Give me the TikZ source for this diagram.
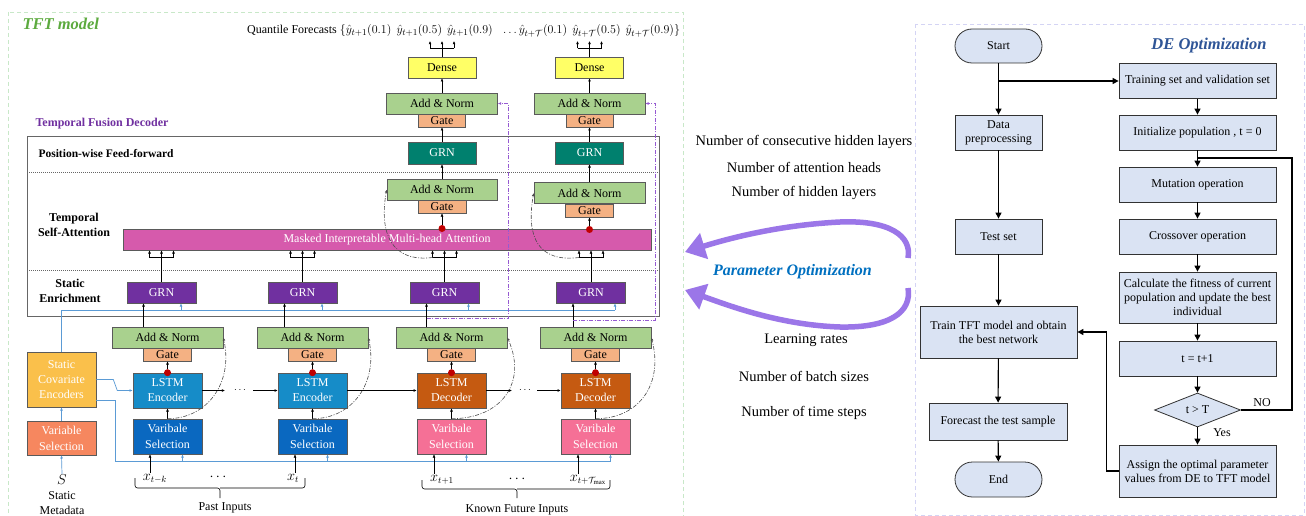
\documentclass[tikz,border=0pt]{standalone}
\usepackage{fontspec}
\setmainfont{Liberation Serif}
\usetikzlibrary{arrows.meta,shapes.geometric,calc}

\newcommand\fsz[2]{\fontsize{#1}{#2}\selectfont}

\definecolor{annormc}{RGB}{169,209,142}
\definecolor{gatec}{RGB}{244,177,131}
\definecolor{densec}{RGB}{255,255,102}
\definecolor{tealgrn}{RGB}{0,128,110}
\definecolor{purgrn}{RGB}{112,48,160}
\definecolor{mhac}{RGB}{214,90,172}
\definecolor{encc}{RGB}{22,140,200}
\definecolor{vsblue}{RGB}{10,104,192}
\definecolor{decc}{RGB}{197,90,17}
\definecolor{vspink}{RGB}{245,112,150}
\definecolor{scec}{RGB}{250,192,75}
\definecolor{svsc}{RGB}{246,135,95}
\definecolor{dotred}{RGB}{192,0,0}
\definecolor{ctxblue}{RGB}{91,155,213}
\definecolor{pdash}{RGB}{150,90,210}
\definecolor{boxline}{RGB}{90,90,90}
\definecolor{tftgreen}{RGB}{92,170,62}
\definecolor{tfdpurple}{RGB}{112,48,160}
\definecolor{pobl}{RGB}{0,112,192}
\definecolor{deblue}{RGB}{47,85,151}
\definecolor{lav}{RGB}{155,118,232}
\definecolor{flfill}{RGB}{218,227,243}
\definecolor{flline}{RGB}{50,50,50}
\definecolor{tftframe}{RGB}{200,232,200}
\definecolor{deframe}{RGB}{212,212,244}

\tikzset{
  box/.style={draw=boxline, line width=0.6pt, inner sep=0pt, align=center, font=\fsz{12}{15}},
  annorm/.style={box, fill=annormc, minimum width=111pt, minimum height=21pt},
  gatebox/.style={box, fill=gatec, minimum width=48pt, minimum height=13pt, font=\fsz{12}{12}},
  densebox/.style={box, fill=densec, minimum width=68pt, minimum height=21pt},
  tgrn/.style={box, fill=tealgrn, text=white, minimum width=68pt, minimum height=22pt},
  pgrn/.style={box, fill=purgrn, text=white, minimum width=69pt, minimum height=21pt},
  encbox/.style={box, fill=encc, text=white, minimum width=69pt, minimum height=35pt},
  decbox/.style={box, fill=decc, text=white, minimum width=69pt, minimum height=35pt},
  vsbbox/.style={box, fill=vsblue, text=white, minimum width=69pt, minimum height=35pt, font=\fsz{12}{16}},
  vspbox/.style={box, fill=vspink, text=white, minimum width=69pt, minimum height=35pt, font=\fsz{12}{16}},
  rdot/.style={circle, fill=dotred, inner sep=0pt, minimum size=7pt},
  arr/.style={-{Latex[length=3.2pt,width=2.8pt]}, line width=0.5pt},
  bline/.style={draw=ctxblue, line width=0.7pt},
  barr/.style={bline, -{Latex[length=3.2pt,width=2.8pt]}},
  skipl/.style={-{Latex[length=3.2pt,width=2.8pt]}, draw=black!70, line width=0.6pt, dash pattern=on 4pt off 1.5pt on 1pt off 1.5pt},
  purpd/.style={-{Latex[length=3.2pt,width=2.8pt]}, draw=pdash, line width=0.7pt, dash pattern=on 4pt off 1.5pt on 1pt off 1.5pt},
  seplbl/.style={font=\bfseries\fsz{12}{15}, align=center},
  txt/.style={font=\fsz{12}{15}, align=center, inner sep=1pt},
  inlbl/.style={font=\fsz{13.5}{14}, inner sep=1pt},
  bracket/.style={line width=0.6pt, rounded corners=2.5pt},
  fbox/.style={draw=flline, fill=flfill, line width=0.8pt, align=center, inner sep=0pt, font=\fsz{12}{14}},
  farr/.style={-{Triangle[length=6pt,width=6pt]}, line width=1.1pt},
  fline/.style={line width=1.1pt},
  optarrow/.style={draw=lav, line width=5.5pt, -{Triangle[length=20pt,width=26pt]}},
  paramtxt/.style={font=\fsz{14.5}{16}},
}

\begin{document}
\begin{tikzpicture}[x=1pt,y=-1pt]
\useasboundingbox (0,0) rectangle (1306,516);
\fill[white] (0,0) rectangle (1306,516);

% ---------- outer frames ----------
\draw[tftframe, line width=0.8pt, dash pattern=on 4pt off 3pt] (8,12) rectangle (683,530);
\draw[deframe, line width=0.8pt, dash pattern=on 4pt off 3pt] (915,24) rectangle (1304,515);

\node[anchor=west, font=\bfseries\itshape\fsz{16.5}{18}, text=tftgreen] (tftttl) at (19,24) {TFT model};
\node[anchor=base west, font=\fsz{12}{14}, inner sep=0pt] (qf) at (247,34) {Quantile Forecasts {\fsz{12.6}{14}$\{\hat{y}_{t+1}(0.1)\ \,\hat{y}_{t+1}(0.5)\ \,\hat{y}_{t+1}(0.9)\ \ \,\ldots\hat{y}_{t+\mathcal{T}}(0.1)\ \,\hat{y}_{t+\mathcal{T}}(0.5)\ \,\hat{y}_{t+\mathcal{T}}(0.9)\}$}};

% ---------- temporal fusion decoder frame ----------
\draw[black!60, line width=0.8pt] (27,136) rectangle (659,316);
\draw[black!60, line width=0.6pt, dash pattern=on 1pt off 1pt] (27,172) -- (659,172) (27,270) -- (659,270);
\node[anchor=west, font=\bfseries\fsz{12}{14}, text=tfdpurple] (tfd) at (32,124) {Temporal Fusion Decoder};
\node[anchor=west, font=\bfseries\fsz{11.5}{14}] (pwff) at (35,154) {Position-wise Feed-forward};
\node[seplbl] (tsa) at (74,224.5) {Temporal\\Self-Attention};
\node[seplbl] (sen) at (70,290.5) {Static\\Enrichment};

% ---------- output heads ----------
\node[densebox] (ds3) at (442,67.5) {Dense};
\node[densebox] (ds4) at (589.5,67.5) {Dense};
\node[annorm] (oan3) at (442,103.5) {Add \& Norm};
\node[gatebox, minimum width=47pt] (og3) at (442,120.5) {Gate};
\node[annorm] (oan4) at (589.5,103.5) {Add \& Norm};
\node[gatebox, minimum width=47pt] (og4) at (589.5,120.5) {Gate};
\node[tgrn] (t3) at (442,153) {GRN};
\node[tgrn] (t4) at (589.5,153) {GRN};

% ---------- self-attention layer ----------
\node[annorm, minimum width=110pt] (aan3) at (442,189.5) {Add \& Norm};
\node[gatebox] (ag3) at (442,206.5) {Gate};
\node[annorm] (aan4) at (589.5,193) {Add \& Norm};
\node[gatebox] (ag4) at (589.5,210.5) {Gate};
\node[box, fill=mhac, text=white, minimum width=528pt, minimum height=21pt] (mha) at (387,239.5) {Masked Interpretable Multi-head Attention};
\node[rdot] (ad3) at (442,228.5) {};
\node[rdot] (ad4) at (589.5,229.5) {};

% ---------- static enrichment ----------
\node[pgrn] (g1) at (161.5,292.5) {GRN};
\node[pgrn] (g2) at (302.5,292.5) {GRN};
\node[pgrn] (g3) at (444.5,292.5) {GRN};
\node[pgrn] (g4) at (591,292.5) {GRN};

% ---------- LSTM layer ----------
\foreach \i/\x in {1/167.5,2/312.5,3/451.5,4/595.5}{
  \node[annorm] (an\i) at (\x,337.5) {Add \& Norm};
  \node[gatebox] (gt\i) at (\x,354.5) {Gate};
}
\node[encbox] (en1) at (167.5,390.5) {LSTM\\Encoder};
\node[encbox] (en2) at (312.5,390.5) {LSTM\\Encoder};
\node[decbox] (en3) at (451.5,390.5) {LSTM\\Decoder};
\node[decbox] (en4) at (595.5,390.5) {LSTM\\Decoder};
\node[vsbbox] (vs1) at (167.5,436.5) {Varibale\\Selection};
\node[vsbbox] (vs2) at (312.5,436.5) {Varibale\\Selection};
\node[vspbox] (vs3) at (451.5,436.5) {Varibale\\Selection};
\node[vspbox] (vs4) at (595.5,436.5) {Varibale\\Selection};
\foreach \i in {1,2,3,4}{
  \node[rdot] (d\i) at (en\i.north) {};
  \draw[arr] (d\i) -- (gt\i.south);
  \draw[arr] (vs\i.north) -- (en\i.south);
}

% ---------- static covariates ----------
\node[box, fill=scec, text=white, minimum width=69pt, minimum height=55pt] (sce) at (61.5,379.5) {Static\\Covariate\\Encoders};
\node[box, fill=svsc, text=white, minimum width=69pt, minimum height=34pt, font=\fsz{12}{16}] (svs) at (61.5,438) {Variable\\Selection};
\node[font=\fsz{14}{14}, inner sep=1pt] (smeta) at (62,480) {$S$};
\node[txt] (smlbl) at (62,503.5) {Static\\Metadata};
\draw[barr] (smeta.north) -- (svs.south);
\draw[barr] (svs.north) -- (sce.south);

% static context lines
\coordinate (cs) at (61.5,310);
\coordinate (cse) at (615,310);
\draw[bline] (sce.north) -- (cs) -- (cse);
\foreach \g/\dx in {g1/19.5,g2/19.5,g3/24,g4/24}
  \draw[barr] ([xshift=\dx pt]\g.south |- cs) -- ([xshift=\dx pt]\g.south);
\draw[barr] (sce.east) -- ++(17,0) -- ++(4,11) -- (en1.west);
\coordinate (cve) at (610.5,461);
\draw[bline] ($(sce.east)+(0,20.5)$) -- ++(19,0) |- (cve);
\foreach \v in {vs1,vs2,vs3,vs4}
  \draw[barr] ([xshift=15pt]\v.south |- cve) -- ([xshift=15pt]\v.south);

% LSTM layer output to static enrichment
\foreach \a/\g in {an1/g1,an2/g2,an3/g3,an4/g4}
  \draw[arr] ([xshift=-18pt]\g.south |- \a.north) -- ([xshift=-18pt]\g.south);

% static enrichment to attention (three inputs each)
\coordinate (fy) at (0,257.5);
\foreach \g in {g1,g2,g3,g4}{
  \draw[line width=0.5pt] (\g.north) -- (\g.north |- fy);
  \draw[line width=0.5pt] ([xshift=-12pt]\g.north |- fy) -- ([xshift=12pt]\g.north |- fy);
  \foreach \d in {-12,0,12}
    \draw[arr] ([xshift=\d pt]\g.north |- fy) -- ([xshift=\d pt]\g.north |- mha.south);
}

% attention to output heads
\foreach \c in {3,4}{
  \draw[arr] (ad\c) -- (ag\c.south);
  \draw[arr] (aan\c.north) -- (t\c.south);
  \draw[arr] (t\c.north) -- (og\c.south);
  \draw[arr] (oan\c.north) -- (ds\c.south);
}
\coordinate (oy) at (0,48.5);
\coordinate (oyt) at (0,41);
\foreach \d in {ds3,ds4}{
  \draw[line width=0.5pt] (\d.north) -- (\d.north |- oy);
  \draw[line width=0.5pt] ([xshift=-12pt]\d.north |- oy) -- ([xshift=12pt]\d.north |- oy);
  \foreach \e in {-12,0,12}
    \draw[arr] ([xshift=\e pt]\d.north |- oy) -- ([xshift=\e pt]\d.north |- oyt);
}

% gated skip connections
\draw[skipl] ([xshift=-12pt]g3.north |- fy) .. controls +(-40,5) and +(-8,45) .. (aan3.west);
\draw[skipl] ([xshift=-12pt]g4.north |- fy) .. controls +(-40,5) and +(-8,45) .. (aan4.west);
\draw[skipl] (vs1.north) .. controls +(40,0) and +(10,45) .. (an1.east);
\draw[skipl] (vs2.north) .. controls +(40,0) and +(10,45) .. (an2.east);
\draw[skipl] (vs3.north) .. controls +(50,0) and +(20,45) .. (an3.east);
\draw[skipl] (vs4.north) .. controls +(45,0) and +(12,45) .. (an4.east);

\coordinate (p3) at (426.5,318);
\coordinate (p4) at (573,320);
\draw[purpd] (p3) -- ++(81.5,0) |- (oan3.east);
\draw[purpd] (p4) -- ++(82,0) |- (oan4.east);

% recurrent links between LSTM cells
\coordinate (h1) at (225,390.5);
\coordinate (h1b) at (253,390.5);
\node[inner sep=0pt] (dt1) at (240,390.5) {$\cdots$};
\draw[arr] (en1.east) -- (h1);
\draw[arr] (h1b) -- (en2.west);
\draw[arr] (en2.east) -- (en3.west);
\coordinate (h3) at (512,390.5);
\coordinate (h3b) at (537,390.5);
\node[inner sep=0pt] (dt3) at (525,390.5) {$\cdots$};
\draw[arr] (en3.east) -- (h3);
\draw[arr] (h3b) -- (en4.west);

% ---------- inputs ----------
\node[inlbl] (x1) at (155,479) {$x_{t-k}$};
\node[inlbl] (xd1) at (218,477) {$\cdots$};
\node[inlbl] (x2) at (293,478) {$x_t$};
\node[inlbl] (x3) at (442,480) {$x_{t+1}$};
\node[inlbl] (xd2) at (517,479) {$\cdots$};
\node[inlbl] (x4) at (588,480) {$x_{t+\mathcal{T}_{\max}}$};
\foreach \x/\v in {x1/vs1,x2/vs2,x3/vs3,x4/vs4}
  \draw[arr] ([xshift=-17.5pt]\v.south |- \x.north) -- ([xshift=-17.5pt]\v.south);
% input brackets
\coordinate (pbt) at (220,498);
\coordinate (fbt) at (517,498);
\draw[bracket] (135,478) |- (220,488) -- (pbt);
\draw[bracket] (305,478) |- (220,488);
\draw[bracket] (422,480) |- (517,489) -- (fbt);
\draw[bracket] (610,480) |- (517,489);
\node[txt] (pin) at (225,508) {Past Inputs};
\node[txt] (kfi) at (517,510) {Known Future Inputs};

% ---------- parameter optimization ----------
\node[paramtxt] (pa1) at (804,142) {Number of consecutive hidden layers};
\node[paramtxt] (pa2) at (804,167) {Number of attention heads};
\node[paramtxt] (pa3) at (804,193) {Number of hidden layers};
\node[font=\bfseries\itshape\fsz{16}{18}, text=pobl] (popt) at (792.5,272) {Parameter Optimization};
\node[paramtxt] (pb1) at (806,340) {Learning rates};
\node[paramtxt] (pb2) at (804,376) {Number of batch sizes};
\node[paramtxt] (pb3) at (804,413) {Number of time steps};
\coordinate (oa1) at (908,258);
\coordinate (oa2) at (908,288);
\coordinate (tfa1) at (685,252);
\coordinate (tfa2) at (685,290);
\draw[optarrow] (oa1) .. controls (912,236) and (890,220) .. (840,222) .. controls (780,225) and (730,238) .. (tfa1);
\draw[optarrow] (oa2) .. controls (912,312) and (890,328) .. (840,327) .. controls (780,325) and (730,306) .. (tfa2);

% ---------- DE flowchart ----------
\node[font=\bfseries\itshape\fsz{16.5}{18}, text=deblue] (dettl) at (1209,46) {DE Optimization};
\node[fbox, rounded corners=17pt, minimum width=87pt, minimum height=34pt] (start) at (998.5,46) {Start};
\node[fbox, minimum width=87pt, minimum height=35pt] (dp) at (998.5,132.5) {Data\\preprocessing};
\node[fbox, minimum width=87pt, minimum height=35pt] (ts) at (998.5,236.5) {Test set};
\node[fbox, minimum width=157pt, minimum height=52pt] (train) at (998.5,332) {Train TFT model and obtain\\the best network};
\node[fbox, minimum width=138pt, minimum height=37pt] (fc) at (998,421.5) {Forecast the test sample};
\node[fbox, rounded corners=17.5pt, minimum width=87pt, minimum height=35pt] (end) at (998.5,479.5) {End};

\node[fbox, minimum width=157pt, minimum height=35pt] (tvs) at (1197.5,81) {Training set and validation set};
\node[fbox, minimum width=157pt, minimum height=35pt] (init) at (1197.5,132.5) {Initialize population , t = 0};
\node[fbox, minimum width=157pt, minimum height=35pt] (mut) at (1197.5,184.5) {Mutation operation};
\node[fbox, minimum width=157pt, minimum height=35pt] (cross) at (1197.5,236.5) {Crossover operation};
\node[fbox, minimum width=157pt, minimum height=51pt] (calc) at (1197.5,297.5) {Calculate the fitness of current\\population and update the best\\individual};
\node[fbox, minimum width=157pt, minimum height=35pt] (tinc) at (1197.5,358.5) {t = t+1};
\node[fbox, diamond, aspect=2.5, minimum width=86pt, minimum height=34pt] (dia) at (1197.5,410) {t {\textgreater} T};
\node[fbox, minimum width=157pt, minimum height=52pt] (assign) at (1197.5,471) {Assign the optimal parameter\\values from DE to TFT model};

\draw[farr] (start) -- (dp);
\draw[farr] (start.south |- tvs.west) -- (tvs.west);
\draw[farr] (dp) -- (ts);
\draw[farr] (ts) -- (train);
\draw[farr] (train) -- (fc);
\draw[farr] (fc) -- (end);
\draw[farr] (tvs) -- (init);
\draw[farr] (init) -- (mut);
\draw[farr] (mut) -- (cross);
\draw[farr] (cross) -- (calc);
\draw[farr] (calc) -- (tinc);
\draw[farr] (tinc) -- (dia);
\draw[farr] (dia) -- (assign);
\coordinate (lp) at (1292,158);
\draw[fline] (dia.east) -| (lp) -- (lp -| mut.north);
\draw[farr] (assign.west) -- ++(-12.5,0) |- (train.east);
\node[font=\fsz{12}{14}] (nolbl) at (1262,403) {NO};
\node[font=\fsz{12}{14}] (yeslbl) at (1222,433) {Yes};

\end{tikzpicture}
\end{document}
